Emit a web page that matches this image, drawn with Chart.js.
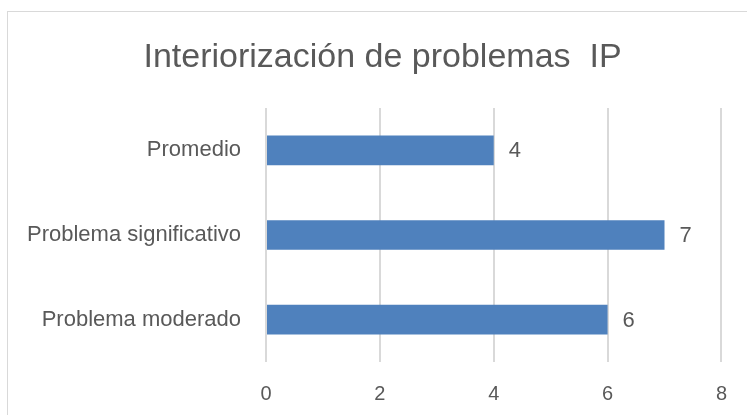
<!DOCTYPE html>
<html>
<head>
<meta charset="utf-8">
<script src="https://cdn.jsdelivr.net/npm/chart.js@4"></script>
<style>
  body { margin: 0; background: #fff; }
  #wrap { position: relative; width: 747px; height: 415px; overflow: hidden; }
  #frame { position: absolute; left: 7px; top: 11px; width: 800px; height: 500px;
           border-left: 1px solid #d9d9d9; border-top: 1px solid #d9d9d9; }
  canvas { position: absolute; left: 0; top: 0; }
</style>
</head>
<body>
<div id="wrap">
  <div id="frame"></div>
  <canvas id="chart" width="747" height="415"></canvas>
</div>
<script>
const categories = ["Promedio", "Problema significativo", "Problema moderado"];
const values = [4, 7, 6];
const tick_values = [0, 2, 4, 6, 8];

const font_name = "'Liberation Sans', Arial, sans-serif";
const text_color = '#595959';

// value labels to the right of each bar
const bar_labels = {
    id: 'bar_labels',
    afterDatasetsDraw(chart) {
        const ctx = chart.ctx;
        const meta = chart.getDatasetMeta(0);
        ctx.save();
        ctx.font = '22px ' + font_name;
        ctx.fillStyle = text_color;
        ctx.textAlign = 'left';
        ctx.textBaseline = 'middle';
        meta.data.forEach(function (bar, i) {
            ctx.fillText(String(values[i]), bar.x + 15, bar.y + 1);
        });
        ctx.restore();
    }
};

const ctx = document.getElementById('chart').getContext('2d');
const chart = new Chart(ctx, {
    type: 'bar',
    data: {
        labels: categories,
        datasets: [{
            data: values,
            backgroundColor: '#4f81bd',
            borderWidth: 0,
            barPercentage: 0.35,
            categoryPercentage: 1.0
        }]
    },
    options: {
        indexAxis: 'y',
        responsive: false,
        animation: false,
        // left padding only to shift the title centre like the original
        layout: { padding: { left: 42, right: 24, top: 0, bottom: 0 } },
        plugins: {
            legend: { display: false },
            tooltip: { enabled: false },
            title: {
                display: true,
                text: 'Interiorización de problemas  IP',
                color: text_color,
                font: { family: font_name, size: 34, weight: 'normal', lineHeight: 1.2 },
                padding: { top: 37.5, bottom: 29.7 }
            }
        },
        scales: {
            x: {
                min: 0,
                max: 8,
                afterBuildTicks: function (axis) {
                    axis.ticks = tick_values.map(function (v) { return { value: v }; });
                },
                afterFit: function (axis) { axis.height = 53; },
                grid: { color: '#d9d9d9', lineWidth: 2, drawTicks: false },
                border: { display: false },
                ticks: {
                    color: text_color,
                    padding: 20,
                    font: { family: font_name, size: 20 }
                }
            },
            y: {
                afterFit: function (axis) {
                    axis.width = 224;
                    // long label reaches into the padding, don't clip it
                    axis._computeLabelArea = function () { return undefined; };
                },
                grid: { display: false },
                border: { display: false },
                ticks: {
                    color: text_color,
                    padding: 17,
                    font: { family: font_name, size: 22 }
                }
            }
        }
    },
    plugins: [bar_labels]
});
</script>
</body>
</html>
